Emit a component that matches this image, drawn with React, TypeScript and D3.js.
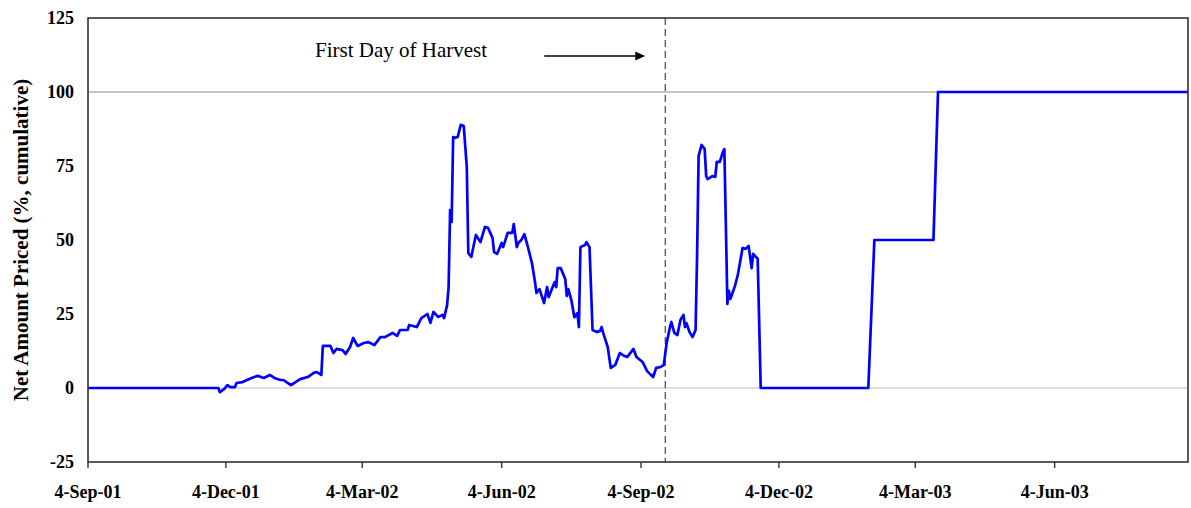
import React from "react";
import * as d3 from "d3";

// days since 4-Sep-01 and net amount priced (% cumulative)
const startDate = new Date(2001, 8, 4);
const dayOffsets = [
  0, 86, 87, 90, 92, 94, 97, 98, 102, 105, 108, 112, 116, 120, 123, 127, 129, 131, 134, 137, 140, 145,
  149, 151, 154, 155, 160, 162, 164, 168, 170, 173, 175, 178, 182, 185, 189, 193, 196, 201, 204, 206,
  211, 212, 217, 220, 224, 226, 228, 231, 234, 235, 237, 238, 239, 240, 241, 242, 244, 246, 248, 250,
  251, 253, 256, 259, 262, 264, 267, 268, 270, 273, 274, 277, 280, 281, 283, 284, 286, 288, 290, 293,
  295, 296, 298, 301, 303, 304, 308, 309, 310, 312, 315, 316, 317, 319, 321, 323, 324, 325, 328, 329,
  331, 333, 336, 338, 339, 340, 343, 345, 348, 351, 353, 356, 360, 362, 366, 369, 373, 375, 378, 380,
  382, 384, 385, 387, 389, 391, 393, 394, 395, 397, 399, 401, 402, 403, 405, 407, 408, 409, 412, 414,
  415, 417, 419, 420, 422, 423, 424, 427, 429, 432, 434, 436, 438, 439, 442, 444, 515, 519, 558, 561, 726,
];
const netPriced = [
  0, 0, -1.4, -0.3, 1.0, 0.3, 0.3, 1.7, 2.0, 2.7, 3.4, 4.1, 3.4, 4.4, 3.4, 2.7, 2.7, 2.0, 1.0, 2.0, 3.0, 3.7,
  5.1, 5.4, 4.4, 14.2, 14.2, 11.8, 13.2, 12.8, 11.5, 13.9, 16.9, 14.2, 15.2, 15.5, 14.5, 17.2, 17.2, 18.6, 17.6, 19.6,
  19.6, 21.3, 20.6, 23.6, 25.0, 22.0, 25.7, 24.0, 24.7, 23.6, 28.0, 34.1, 60.1, 56.1, 84.8, 84.5, 84.8, 88.9, 88.5, 74.6,
  45.6, 44.3, 51.7, 49.3, 54.4, 54.1, 50.7, 45.9, 45.3, 49.0, 47.6, 52.4, 52.4, 55.4, 47.6, 49.0, 50.0, 52.0, 48.3, 42.2,
  35.8, 32.1, 33.4, 28.7, 34.1, 30.7, 35.8, 34.1, 40.5, 40.5, 36.8, 31.1, 33.4, 29.7, 23.9, 25.3, 20.6, 47.6, 48.3, 49.3,
  47.6, 19.6, 18.9, 19.3, 20.6, 18.6, 13.9, 6.8, 7.8, 11.8, 11.1, 10.5, 13.2, 10.5, 8.8, 5.7, 3.7, 6.8, 7.1, 7.8,
  15.5, 20.3, 22.3, 18.6, 17.9, 23.0, 24.7, 20.6, 21.9, 18.9, 17.2, 19.6, 44.9, 78.4, 82.1, 80.7, 71.6, 70.6, 71.6, 71.3,
  76.4, 76.4, 79.7, 80.7, 28.4, 32.8, 30.1, 34.5, 38.5, 47.3, 47.0, 48.0, 40.5, 45.3, 43.6, 0, 0, 50, 50, 100, 100,
];
const endOffset = 726;
const harvestOffset = 381;
const xTickLabels = ["4-Sep-01", "4-Dec-01", "4-Mar-02", "4-Jun-02", "4-Sep-02", "4-Dec-02", "4-Mar-03", "4-Jun-03"];
const yTicks = [-25, 0, 25, 50, 75, 100, 125];
const gridValues = [100, 0];

const W = 1191;
const H = 508;
const margin = { top: 18, right: 3, bottom: 46, left: 88 };
const font = "'Liberation Serif', 'Times New Roman', serif";

export default function App() {
  const day = (d: number) => d3.timeDay.offset(startDate, d);
  const parse = d3.timeParse("%d-%b-%y");

  const x = d3
    .scaleTime()
    .domain([startDate, day(endOffset)])
    .range([margin.left, W - margin.right]);
  const y = d3.scaleLinear().domain([-25, 125]).range([H - margin.bottom, margin.top]);

  const points: [Date, number][] = dayOffsets.map((d, i) => [day(d), netPriced[i]]);
  const line = d3
    .line<[Date, number]>()
    .x((d) => x(d[0]))
    .y((d) => y(d[1]));

  const hx = x(day(harvestOffset));
  const x0 = margin.left;
  const x1 = W - margin.right;
  const yTop = margin.top;
  const yBot = H - margin.bottom;

  return (
    <svg width={W} height={H} style={{ position: "absolute", left: 0, top: 0, background: "#fff" }}>
      {gridValues.map((v) => (
        <line key={v} x1={x0} x2={x1} y1={y(v)} y2={y(v)} stroke={v === 0 ? "#bdbdbd" : "#8a8a8a"} strokeWidth={1} />
      ))}
      <line x1={hx} x2={hx} y1={yTop} y2={yBot} stroke="#444" strokeWidth={1.2} strokeDasharray="7,4" />
      <path d={line(points) || ""} fill="none" stroke="#0000ff" strokeWidth={2.7} strokeLinejoin="round" />
      <rect x={x0} y={yTop} width={x1 - x0} height={yBot - yTop} fill="none" stroke="#333" strokeWidth={1.6} />
      {xTickLabels.map((t) => {
        const tx = x(parse(t) as Date);
        return (
          <g key={t}>
            <line x1={tx} x2={tx} y1={yBot} y2={yBot + 6} stroke="#333" strokeWidth={1.4} />
            <text x={tx} y={yBot + 36} textAnchor="middle" fontFamily={font} fontWeight="bold" fontSize={18}>
              {t}
            </text>
          </g>
        );
      })}
      {yTicks.map((v) => (
        <text key={v} x={x0 - 14} y={y(v) + 6} textAnchor="end" fontFamily={font} fontWeight="bold" fontSize={18}>
          {v}
        </text>
      ))}
      <text
        transform={`translate(28,${(yTop + yBot) / 2}) rotate(-90)`}
        textAnchor="middle"
        fontFamily={font}
        fontWeight="bold"
        fontSize={21}
      >
        Net Amount Priced (%, cumulative)
      </text>
      <text x={315} y={57} fontFamily={font} fontSize={21}>
        First Day of Harvest
      </text>
      <line x1={hx - 121} x2={hx - 28} y1={56} y2={56} stroke="#000" strokeWidth={1.5} />
      <path d={`M${hx - 20},56 L${hx - 30},51.5 L${hx - 30},60.5 Z`} fill="#000" />
    </svg>
  );
}
